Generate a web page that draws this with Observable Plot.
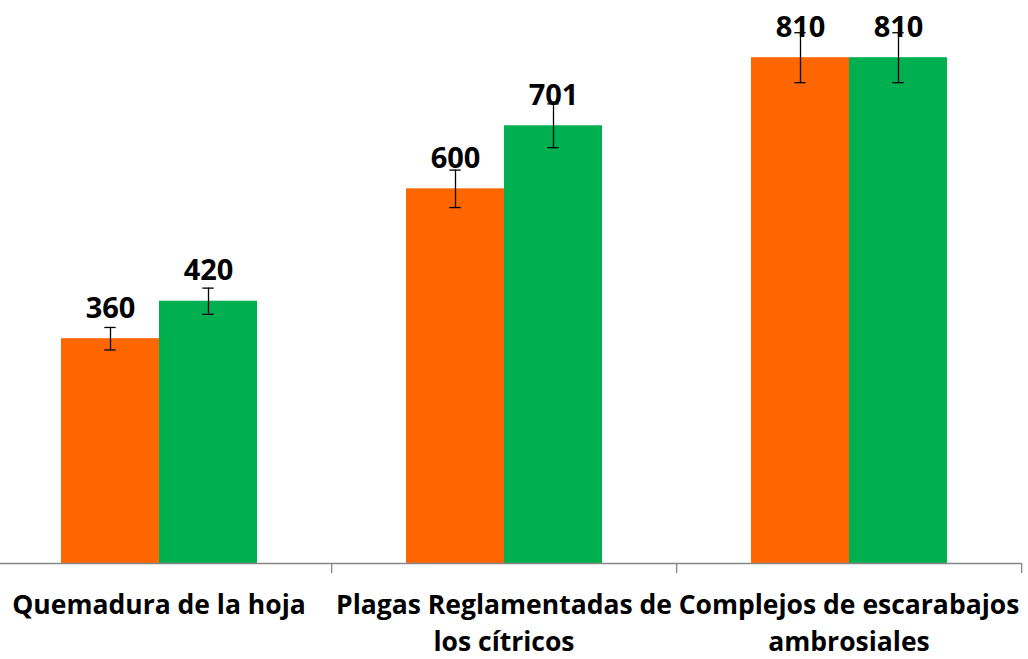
<!DOCTYPE html>
<html>
<head>
<meta charset="utf-8">
<script src="https://cdn.jsdelivr.net/npm/d3@7"></script>
<script src="https://cdn.jsdelivr.net/npm/@observablehq/plot@0.6"></script>
<style>
  html, body { margin: 0; padding: 0; background: #ffffff; }
  #chart svg { display: block; }
</style>
</head>
<body>
<div id="chart"></div>
<script>
const categories = [
  "Quemadura de la hoja",
  "Plagas Reglamentadas de\nlos cítricos",
  "Complejos de escarabajos\nambrosiales"
];
const seriesNames = ["Serie 1", "Serie 2"];
const seriesColors = ["#FF6600", "#00B050"];
const valuesOrange = [360, 600, 810];
const valuesGreen = [420, 701, 810];
const errorsOrange = [18, 30, 40];
const errorsGreen = [21, 35, 40];
const yDomain = [0, 900];

const rows = categories.flatMap((c, i) => [
  {cat: c, serie: seriesNames[0], value: valuesOrange[i], err: errorsOrange[i]},
  {cat: c, serie: seriesNames[1], value: valuesGreen[i], err: errorsGreen[i]}
]);

const W = 1028, H = 659;
const fxRange = [-14.5, 1021.5];
const band = (fxRange[1] - fxRange[0]) / categories.length;
const capHalf = 6;
const barStep = band / 3.5;
const capInset = barStep / 2 - capHalf;

const chart = Plot.plot({
  width: W,
  height: H,
  marginTop: 1,
  marginBottom: 96,
  marginLeft: 0,
  marginRight: 0,
  style: {fontFamily: "'Open Sans', sans-serif", background: "#ffffff"},
  fx: {domain: categories, range: fxRange, padding: 0, axis: null, label: null},
  x: {domain: seriesNames, paddingInner: 0, paddingOuter: 0.75, axis: null},
  y: {domain: yDomain, axis: null},
  color: {domain: seriesNames, range: seriesColors},
  marks: [
    Plot.barY(rows, {fx: "cat", x: "serie", y: "value", fill: "serie"}),
    Plot.ruleX(rows, {fx: "cat", x: "serie", y1: d => d.value - d.err, y2: d => d.value + d.err, stroke: "#000", strokeWidth: 1.3}),
    Plot.tickY(rows, {fx: "cat", x: "serie", y: d => d.value - d.err, stroke: "#000", strokeWidth: 1.3, insetLeft: capInset, insetRight: capInset}),
    Plot.tickY(rows, {fx: "cat", x: "serie", y: d => d.value + d.err, stroke: "#000", strokeWidth: 1.3, insetLeft: capInset, insetRight: capInset}),
    Plot.text(rows, {fx: "cat", x: "serie", y: "value", text: d => String(d.value), lineAnchor: "bottom", dy: -21, fontSize: 29, fontWeight: "bold", fill: "#000"}),
    Plot.ruleY([0], {stroke: "#868686", strokeWidth: 1.3}),
    Plot.axisFx({anchor: "bottom", tickSize: 10, tickFormat: () => "", dx: band / 2, stroke: "#868686", strokeWidth: 1.3, label: null}),
    Plot.axisFx({anchor: "bottom", tickSize: 0, tickPadding: 24, fontSize: 26.5, fontWeight: "bold", fill: "#000", lineHeight: 1.4, label: null})
  ]
});
document.getElementById("chart").appendChild(chart);
</script>
</body>
</html>
